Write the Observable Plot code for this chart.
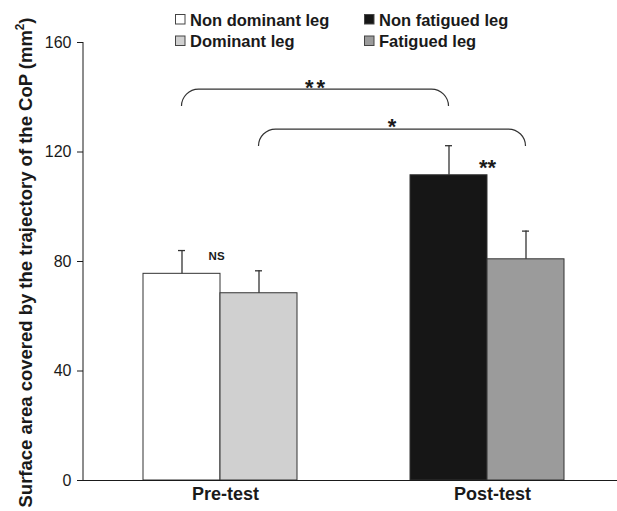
<!DOCTYPE html>
<html><head><meta charset="utf-8">
<script src="https://cdn.jsdelivr.net/npm/d3@7"></script>
<script src="https://cdn.jsdelivr.net/npm/@observablehq/plot@0.6"></script>
<style>
body{margin:0;background:#fff;}
#chart{position:relative;width:617px;height:511px;}
</style></head><body><div id="chart"></div>
<script>
// ---- data ----
const groups = ["Pre-test", "Post-test"];
const series = ["Non dominant leg", "Dominant leg", "Non fatigued leg", "Fatigued leg"];
const seriesGroup = ["Pre-test", "Pre-test", "Post-test", "Post-test"];
const means = [75.5, 68.4, 111.5, 80.8];
const sems = [8.5, 8.2, 10.8, 10.3];
const colors = ["#ffffff", "#d0d0d0", "#161616", "#9b9b9b"];
const yTicks = [0, 40, 80, 120, 160];
const slots = ["first", "second"];
const yTitle = "Surface area covered by the trajectory of the CoP (mm";
// within-group significance marks
const markLabels = ["NS", "**"];
const markGroups = ["Pre-test", "Post-test"];
const markY = [81.9, 116.1];
// between-group brackets (series index from -> to)
const bracketFrom = [0, 1];
const bracketTo = [2, 3];
const bracketTop = [142.8, 128.2];
const bracketBottom = [136.6, 122.0];
const bracketLabels = ["**", "*"];
const bracketLabelY = [145.1, 130.9];

const data = series.map((s, i) => ({
  series: s,
  group: seriesGroup[i],
  slot: slots[seriesGroup.slice(0, i).filter(g => g === seriesGroup[i]).length],
  mean: means[i],
  upper: means[i] + sems[i]
}));

const font = "'Liberation Sans', Arial, Helvetica, sans-serif";
const ink = "#1a1a1a";

const plot = Plot.plot({
  width: 617, height: 511,
  marginLeft: 83, marginRight: 0, marginTop: 42, marginBottom: 31,
  style: {fontFamily: font, background: "#fff", color: ink},
  fx: {domain: groups, padding: 0, label: null},
  x: {domain: slots, paddingInner: 0, paddingOuter: 0.7226, align: 0.53, axis: null},
  y: {domain: [0, 160], label: null},
  color: {domain: series, range: colors},
  marks: [
    Plot.axisY(yTicks, {tickSize: 6, tickPadding: 6, fontSize: 16, label: null, stroke: ink}),
    Plot.axisFx({anchor: "bottom", tickSize: 0, tickPadding: 7, fontSize: 18, fontWeight: "bold", dx: 8.5, label: null}),
    Plot.barY(data, {fx: "group", x: "slot", y: "mean", fill: "series", stroke: "#333", strokeWidth: 1}),
    Plot.ruleX(data, {fx: "group", x: "slot", y1: "mean", y2: "upper", stroke: "#333", strokeWidth: 1.3}),
    Plot.tickY(data, {fx: "group", x: "slot", y: "upper", insetLeft: 35, insetRight: 35, stroke: "#333", strokeWidth: 1.3}),
    Plot.ruleY([0], {stroke: ink, strokeWidth: 1}),
    Plot.text([0], {fx: () => markGroups[0], x: () => slots[0], y: () => markY[0], text: () => markLabels[0], dx: 34.6, fontSize: 11.5, fontWeight: "bold", fill: ink}),
    Plot.text([1], {fx: () => markGroups[1], x: () => slots[0], y: () => markY[1], text: () => markLabels[1], dx: 38.6, dy: 5.6, fontSize: 22, fontWeight: "bold", letterSpacing: 3, fill: ink})
  ]
});

document.getElementById("chart").appendChild(plot);

// ---- overlay: axis line, brackets, y title, legend ----
const svg = d3.select(plot);
const fxS = plot.scale("fx"), xS = plot.scale("x"), yS = plot.scale("y");
const bw = xS.bandwidth;
const xOrigin = Math.min(...xS.range) - (xS.paddingOuter ? 0 : 0);
const barCenter = i => fxS.apply(data[i].group) - fxS.range[0] + xS.apply(data[i].slot) + bw / 2;

svg.append("line")
  .attr("x1", fxS.range[0]).attr("x2", fxS.range[0])
  .attr("y1", yS.apply(160)).attr("y2", yS.apply(0))
  .attr("stroke", ink).attr("stroke-width", 1);

const rx = 17;
bracketFrom.forEach((f, k) => {
  const xa = barCenter(f), xb = barCenter(bracketTo[k]);
  const yt = yS.apply(bracketTop[k]), yb = yS.apply(bracketBottom[k]);
  const ry = yb - yt;
  svg.append("path")
    .attr("d", `M${xa},${yb} A${rx},${ry} 0 0 1 ${xa + rx},${yt} L${xb - rx},${yt} A${rx},${ry} 0 0 1 ${xb},${yb}`)
    .attr("fill", "none").attr("stroke", "#333").attr("stroke-width", 1.2);
  svg.append("text")
    .attr("x", (xa + xb) / 2 + (bracketLabels[k].length > 1 ? 1.5 : 0))
    .attr("y", yS.apply(bracketLabelY[k]) + 0.575 * 22)
    .attr("text-anchor", "middle")
    .attr("font-family", font).attr("font-weight", "bold").attr("font-size", 22)
    .attr("letter-spacing", bracketLabels[k].length > 1 ? 3 : 0)
    .attr("fill", ink)
    .text(bracketLabels[k]);
});

const title = svg.append("text")
  .attr("transform", `translate(31.5,${(508 + 17) / 2}) rotate(-90)`)
  .attr("text-anchor", "middle")
  .attr("font-family", font).attr("font-weight", "bold").attr("font-size", 19)
  .attr("fill", ink)
  .attr("textLength", 490).attr("lengthAdjust", "spacingAndGlyphs");
title.append("tspan").text(yTitle);
title.append("tspan").attr("font-size", 12).attr("dy", -8).text("2");
title.append("tspan").attr("dy", 8).text(")");

// legend
const legendCols = [175, 364];
const legendRows = [25.5, 47];
const legendOrder = [[0, 0, 0], [1, 0, 1], [2, 1, 0], [3, 1, 1]];
const lg = svg.append("g").attr("font-family", font).attr("font-weight", "bold").attr("font-size", 16.5).attr("fill", ink).attr("text-anchor", "start");
legendOrder.forEach(([i, c, r]) => {
  lg.append("rect")
    .attr("x", legendCols[c] + 0.5).attr("y", legendRows[r] - 11)
    .attr("width", 9.5).attr("height", 9.5)
    .attr("fill", colors[i]).attr("stroke", "#444").attr("stroke-width", 1);
  lg.append("text").attr("x", legendCols[c] + 15).attr("y", legendRows[r]).attr("text-anchor", "start").text(series[i]);
});
</script>
</body></html>
